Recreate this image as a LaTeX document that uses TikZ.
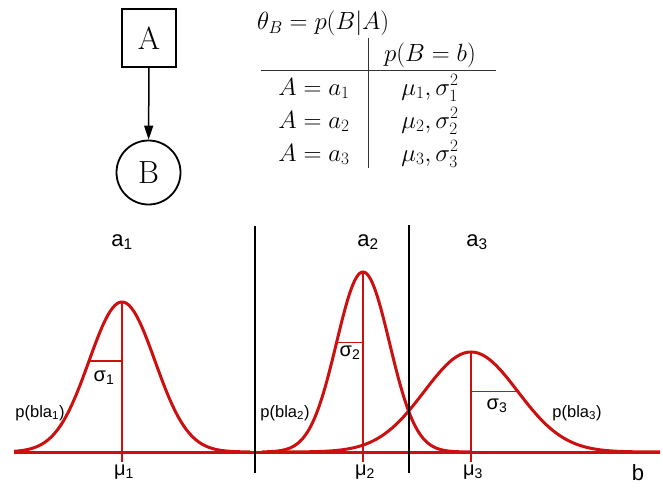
\documentclass[tikz,border=0pt]{standalone}
\usepackage{fontspec}
\newfontfamily\plotfont{Liberation Sans}
\usetikzlibrary{arrows.meta}
\definecolor{cred}{RGB}{204,16,16}
\tikzset{
  curve/.style={cred, line width=3pt, line join=round},
  thinred/.style={cred, line width=1.3pt},
  divider/.style={black, line width=2pt},
  biglbl/.style={font=\plotfont\fontsize{22}{24}\selectfont, inner sep=0pt},
  midlbl/.style={font=\plotfont\fontsize{20}{22}\selectfont, inner sep=0pt},
  smlbl/.style={font=\plotfont\fontsize{16.5}{18}\selectfont, inner sep=0pt},
  mth/.style={font=\fontsize{25.5}{28}\selectfont, inner sep=0pt},
  netnode/.style={draw, line width=1.8pt, font=\fontsize{32}{34}\selectfont, inner sep=0pt},
  tabline/.style={black!80, line width=1pt},
}
\begin{document}
\begin{tikzpicture}[x=1pt,y=-1pt]
\useasboundingbox (0,0) rectangle (663,487);
% network
\node[netnode, rectangle, minimum width=54pt, minimum height=58pt] (A) at (149,38) {A};
\node[netnode, circle, minimum size=64pt] (B) at (148.5,172.5) {B};
\draw[line width=1.5pt, -{Triangle[length=14pt,width=9pt]}] (A) -- (B);
% table
\node[mth, anchor=base west] (theta) at (257,29.5) {$\theta_B = p(B|A)$};
\node[mth, anchor=base] (head) at (430,62) {$p(B=b)$};
\node[mth, anchor=base] (r1) at (314,95) {$A=a_1$};
\node[mth, anchor=base] (r2) at (314,128) {$A=a_2$};
\node[mth, anchor=base] (r3) at (314,161) {$A=a_3$};
\node[mth, anchor=base] (v1) at (430,95) {$\mu_1,\sigma_1^2$};
\node[mth, anchor=base] (v2) at (430,128) {$\mu_2,\sigma_2^2$};
\node[mth, anchor=base] (v3) at (430,161) {$\mu_3,\sigma_3^2$};
\coordinate (vt) at (368,38);
\coordinate (vb) at (368,168);
\coordinate (hl) at (261,70);
\coordinate (hr) at (496,70);
\draw[tabline] (vt) -- (vb);
\draw[tabline] (hl) -- (hr);
% plot
\coordinate (axl) at (14,452);
\coordinate (axr) at (660,452);
\draw[curve] (axl) -- (axr);
\draw[curve] plot[domain=14:250, samples=120] (\x,{452-150*exp(-0.5*pow((\x-122)/33,2))});
\draw[curve] plot[domain=262:470, samples=120] (\x,{452-180*exp(-0.5*pow((\x-363)/26.5,2))});
\draw[curve] plot[domain=280:660, samples=150] (\x,{452-100*exp(-0.5*pow((\x-471)/46.7,2))});
% means
\coordinate (m1t) at (122,302); \coordinate (m1b) at (122,462);
\coordinate (m2t) at (363,272); \coordinate (m2b) at (363,462);
\coordinate (m3t) at (471,352); \coordinate (m3b) at (471,462);
\draw[thinred] (m1t) -- (m1b);
\draw[thinred] (m2t) -- (m2b);
\draw[thinred] (m3t) -- (m3b);
% sigmas
\coordinate (s1a) at (89,361); \coordinate (s1b) at (122,361);
\coordinate (s2a) at (336.5,342.8); \coordinate (s2b) at (363,342.8);
\coordinate (s3a) at (471,391.3); \coordinate (s3b) at (517.7,391.3);
\draw[thinred] (s1a) -- (s1b);
\draw[thinred] (s2a) -- (s2b);
\draw[thinred] (s3a) -- (s3b);
% dividers
\coordinate (d1t) at (255,226); \coordinate (d1b) at (255,473);
\coordinate (d2t) at (409,225); \coordinate (d2b) at (409,473);
\draw[divider] (d1t) -- (d1b);
\draw[divider] (d2t) -- (d2b);
% labels
\node[biglbl] (la1) at (122,242) {a\textsubscript{1}};
\node[biglbl] (la2) at (368,242) {a\textsubscript{2}};
\node[biglbl] (la3) at (477,242) {a\textsubscript{3}};
\node[midlbl] (ls1) at (104,378) {σ\textsubscript{1}};
\node[midlbl] (ls2) at (350,353) {σ\textsubscript{2}};
\node[midlbl] (ls3) at (497,406) {σ\textsubscript{3}};
\node[midlbl] (lm1) at (124,472) {μ\textsubscript{1}};
\node[midlbl] (lm2) at (365,472) {μ\textsubscript{2}};
\node[midlbl] (lm3) at (473,472) {μ\textsubscript{3}};
\node[smlbl] (lp1) at (40,413) {p(bla\textsubscript{1})};
\node[smlbl] (lp2) at (285,413) {p(bla\textsubscript{2})};
\node[smlbl] (lp3) at (577,413) {p(bla\textsubscript{3})};
\node[biglbl] (lb) at (638,473) {b};
\end{tikzpicture}
\end{document}
